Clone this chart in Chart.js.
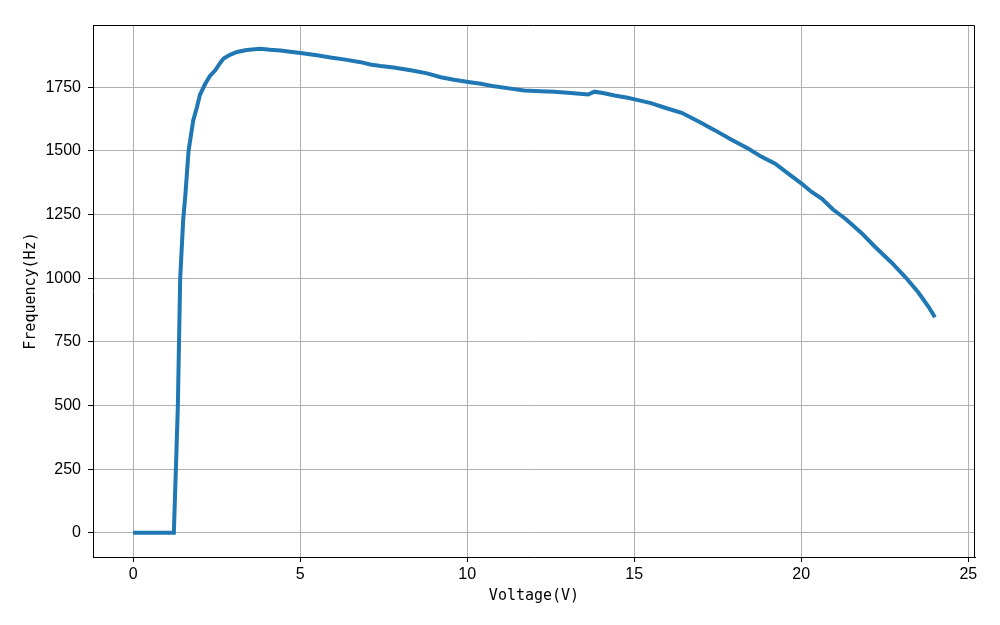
<!DOCTYPE html>
<html>
<head>
<meta charset="utf-8">
<script src="https://cdn.jsdelivr.net/npm/chart.js@4/dist/chart.umd.min.js"></script>
<style>
  html, body { margin: 0; padding: 0; background: #fff; }
  #wrap { width: 1000px; height: 625px; }
</style>
</head>
<body>
<div id="wrap"><canvas id="freqChart" width="1000" height="625"></canvas></div>
<script>
// measured curve: voltage (V) vs frequency (Hz)
const volts = [0, 0.4, 0.8, 1.22, 1.3, 1.34, 1.41, 1.5, 1.56, 1.66, 1.8, 1.91, 2.0, 2.16, 2.3, 2.46, 2.6, 2.71, 2.9,
    3.11, 3.4, 3.81, 4.1, 4.41, 4.7, 5.01, 5.5, 5.91, 6.4, 6.81, 7.1, 7.41, 7.8, 8.31, 8.8, 9.21, 9.6, 10.03,
    10.41, 10.81, 11.3, 11.71, 12.2, 12.61, 13.1, 13.62, 13.81, 14.1, 14.41, 14.8, 15.05, 15.5, 15.92, 16.42,
    16.97, 17.42, 17.9, 18.42, 18.8, 19.22, 19.6, 20.02, 20.3, 20.62, 20.95, 21.32, 21.8, 22.22, 22.7, 23.12,
    23.5, 23.82, 24.0];
const freqs = [0, 0, 0, 0, 330, 500, 1000, 1230, 1320, 1500, 1620, 1672, 1720, 1764, 1795, 1817, 1845, 1863, 1878,
    1889, 1897, 1902, 1898, 1895, 1890, 1885, 1876, 1867, 1858, 1849, 1840, 1834, 1828, 1817, 1805, 1790, 1780, 1771,
    1764, 1754, 1745, 1738, 1735, 1733, 1728, 1722, 1733, 1727, 1718, 1709, 1702, 1688, 1670, 1650,
    1613, 1581, 1545, 1509, 1478, 1450, 1412, 1371, 1340, 1312, 1270, 1234, 1178, 1122, 1062, 1004,
    945, 886, 847];
const xTicks = [0, 5, 10, 15, 20, 25];
const yTicks = [0, 250, 500, 750, 1000, 1250, 1500, 1750];

const points = volts.map((v, i) => ({ x: v, y: freqs[i] }));

// top and right edges of the frame (left/bottom come from the axis borders)
const framePlugin = {
    id: 'frame',
    afterDraw(chart) {
        const a = chart.chartArea;
        const ctx = chart.ctx;
        ctx.save();
        ctx.strokeStyle = '#000';
        ctx.lineWidth = 1;
        ctx.beginPath();
        ctx.moveTo(a.left, a.top + 0.5);
        ctx.lineTo(a.right - 0.5, a.top + 0.5);
        ctx.lineTo(a.right - 0.5, a.bottom);
        ctx.stroke();
        ctx.restore();
    }
};

const tickFont = { family: '"Liberation Sans", Arial, sans-serif', size: 16 };
const titleFont = { family: '"DejaVu Sans Mono", monospace', size: 15 };

new Chart(document.getElementById('freqChart'), {
    type: 'line',
    data: {
        datasets: [{
            data: points,
            borderColor: '#1f77b4',
            borderWidth: 4,
            pointRadius: 0,
            fill: false,
            tension: 0
        }]
    },
    options: {
        responsive: false,
        animation: false,
        layout: { padding: { left: 0, right: 25, top: 25, bottom: 0 } },
        plugins: { legend: { display: false }, tooltip: { enabled: false } },
        scales: {
            x: {
                type: 'linear',
                min: -1.2,
                max: 25.2,
                afterBuildTicks: s => { s.ticks = xTicks.map(v => ({ value: v })); },
                afterFit: s => { s.height = 68; },
                grid: { color: '#b0b0b0', lineWidth: 1, tickColor: '#000', tickLength: 5 },
                border: { color: '#000', width: 1 },
                ticks: { color: '#000', font: tickFont, padding: 3, maxRotation: 0, callback: v => String(v) },
                title: { display: true, text: 'Voltage(V)', color: '#000', font: titleFont, padding: { top: 0, bottom: 20 } }
            },
            y: {
                min: -95,
                max: 1995,
                afterBuildTicks: s => { s.ticks = yTicks.map(v => ({ value: v })); },
                afterFit: s => { s.width = 93; },
                grid: { color: '#b0b0b0', lineWidth: 1, tickColor: '#000', tickLength: 5 },
                border: { color: '#000', width: 1 },
                ticks: { color: '#000', font: tickFont, padding: 7, callback: v => String(v) },
                title: { display: true, text: 'Frequency(Hz)', color: '#000', font: titleFont, padding: { top: 22, bottom: 0 } }
            }
        }
    },
    plugins: [framePlugin]
});
</script>
</body>
</html>
